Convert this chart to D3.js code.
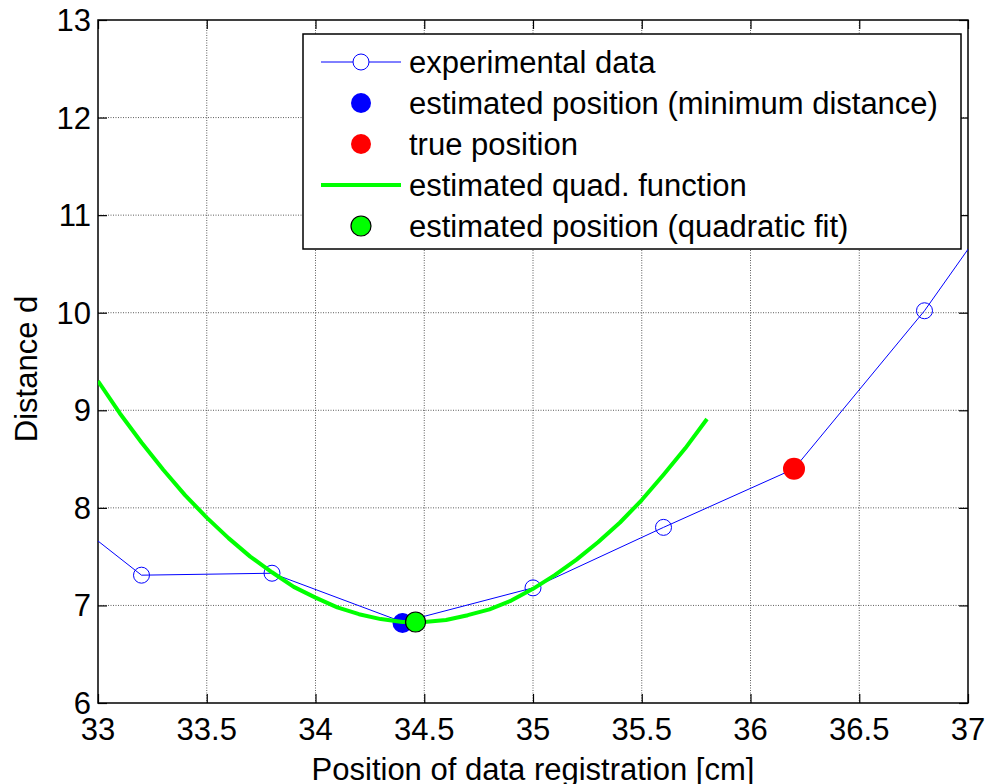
<!DOCTYPE html>
<html>
<head>
<meta charset="utf-8">
<script src="https://cdn.jsdelivr.net/npm/d3@7"></script>
<style>
  body { margin: 0; background: #fff; }
  text { font-family: "Liberation Sans", Arial, sans-serif; fill: #000; }
</style>
</head>
<body>
<div id="chart"></div>
<script>
var expX = [32.6, 33.2, 33.8, 34.4, 35.0, 35.6, 36.2, 36.8, 37.4];
var expY = [8.36, 7.31, 7.33, 6.83, 7.18, 7.80, 8.40, 10.02, 11.91];

var minPos = [34.40, 6.82];
var truePos = [36.20, 8.40];
var fitPos = [34.46, 6.83];

var quadX = [33.0, 33.1, 33.2, 33.3, 33.4, 33.5, 33.6, 33.7, 33.8, 33.9,
  34.0, 34.1, 34.2, 34.3, 34.4, 34.5, 34.6, 34.7, 34.8, 34.9,
  35.0, 35.1, 35.2, 35.3, 35.4, 35.5, 35.6, 35.7, 35.8];
var quadY = [9.30, 8.97, 8.67, 8.39, 8.13, 7.90, 7.69, 7.50, 7.34, 7.19,
  7.08, 6.98, 6.91, 6.86, 6.83, 6.83, 6.85, 6.90, 6.96, 7.05,
  7.17, 7.31, 7.47, 7.65, 7.85, 8.08, 8.34, 8.61, 8.91];

var xTicks = [33, 33.5, 34, 34.5, 35, 35.5, 36, 36.5, 37];
var yTicks = [6, 7, 8, 9, 10, 11, 12, 13];

var legendLabels = ["experimental data", "estimated position (minimum distance)",
  "true position", "estimated quad. function", "estimated position (quadratic fit)"];

var width = 986;
var height = 784;
// note: "top" is reserved on window, so use other names
var pLeft = 98, pRight = 968, pTop = 20, pBottom = 703;

var svg = d3.select("#chart")
  .append("svg")
  .attr("width", width)
  .attr("height", height);

var x = d3.scaleLinear().domain([33, 37]).range([pLeft, pRight]);
var y = d3.scaleLinear().domain([6, 13]).range([pBottom, pTop]);

svg.append("clipPath")
  .attr("id", "plot-clip")
  .append("rect")
  .attr("x", pLeft)
  .attr("y", pTop)
  .attr("width", pRight - pLeft)
  .attr("height", pBottom - pTop);

// dotted grid
svg.append("g")
  .selectAll("line")
  .data(xTicks.slice(1, -1))
  .join("line")
  .attr("x1", function(d) { return x(d); })
  .attr("x2", function(d) { return x(d); })
  .attr("y1", pTop)
  .attr("y2", pBottom)
  .attr("stroke", "#333")
  .attr("stroke-width", 0.8)
  .attr("stroke-dasharray", "1,1.5");

svg.append("g")
  .selectAll("line")
  .data(yTicks.slice(1, -1))
  .join("line")
  .attr("x1", pLeft)
  .attr("x2", pRight)
  .attr("y1", function(d) { return y(d); })
  .attr("y2", function(d) { return y(d); })
  .attr("stroke", "#333")
  .attr("stroke-width", 0.8)
  .attr("stroke-dasharray", "1,1.5");

// axes with inward ticks on all four sides
var tickLen = 9;
svg.append("g")
  .attr("transform", "translate(0," + pBottom + ")")
  .call(d3.axisBottom(x).tickValues(xTicks).tickSize(-tickLen).tickFormat(""));
svg.append("g")
  .attr("transform", "translate(0," + pTop + ")")
  .call(d3.axisTop(x).tickValues(xTicks).tickSize(-tickLen).tickFormat(""));
svg.append("g")
  .attr("transform", "translate(" + pLeft + ",0)")
  .call(d3.axisLeft(y).tickValues(yTicks).tickSize(-tickLen).tickFormat(""));
svg.append("g")
  .attr("transform", "translate(" + pRight + ",0)")
  .call(d3.axisRight(y).tickValues(yTicks).tickSize(-tickLen).tickFormat(""));
svg.selectAll(".domain").remove();
svg.selectAll(".tick line").attr("stroke", "#000").attr("stroke-width", 1.2);

svg.append("rect")
  .attr("x", pLeft)
  .attr("y", pTop)
  .attr("width", pRight - pLeft)
  .attr("height", pBottom - pTop)
  .attr("fill", "none")
  .attr("stroke", "#000")
  .attr("stroke-width", 1.5);

// tick labels
svg.append("g")
  .selectAll("text")
  .data(xTicks)
  .join("text")
  .attr("x", function(d) { return x(d); })
  .attr("y", 740)
  .attr("text-anchor", "middle")
  .attr("font-size", 31)
  .text(function(d) { return d; });

svg.append("g")
  .selectAll("text")
  .data(yTicks)
  .join("text")
  .attr("x", 91)
  .attr("y", function(d) { return y(d) + 11; })
  .attr("text-anchor", "end")
  .attr("font-size", 31)
  .text(function(d) { return d; });

svg.append("text")
  .attr("x", (pLeft + pRight) / 2)
  .attr("y", 780)
  .attr("text-anchor", "middle")
  .attr("font-size", 31)
  .text("Position of data registration [cm]");

svg.append("text")
  .attr("transform", "translate(37,369) rotate(-90)")
  .attr("text-anchor", "middle")
  .attr("font-size", 31)
  .text("Distance d");

// plotted series
var plot = svg.append("g").attr("clip-path", "url(#plot-clip)");

var expPts = expX.map(function(d, i) { return [d, expY[i]]; });
var quadPts = quadX.map(function(d, i) { return [d, quadY[i]]; });
var line = d3.line()
  .x(function(d) { return x(d[0]); })
  .y(function(d) { return y(d[1]); });

plot.append("path")
  .attr("d", line(expPts))
  .attr("fill", "none")
  .attr("stroke", "#0000ff")
  .attr("stroke-width", 1);

plot.selectAll(".exp")
  .data(expPts)
  .join("circle")
  .attr("class", "exp")
  .attr("cx", function(d) { return x(d[0]); })
  .attr("cy", function(d) { return y(d[1]); })
  .attr("r", 8)
  .attr("fill", "none")
  .attr("stroke", "#0000ff")
  .attr("stroke-width", 1);

plot.append("circle")
  .attr("cx", x(minPos[0]))
  .attr("cy", y(minPos[1]))
  .attr("r", 10)
  .attr("fill", "#0000ff");

plot.append("circle")
  .attr("cx", x(truePos[0]))
  .attr("cy", y(truePos[1]))
  .attr("r", 11)
  .attr("fill", "#ff0000");

plot.append("path")
  .attr("d", line(quadPts))
  .attr("fill", "none")
  .attr("stroke", "#00ff00")
  .attr("stroke-width", 4)
  .attr("stroke-linejoin", "round");

plot.append("circle")
  .attr("cx", x(fitPos[0]))
  .attr("cy", y(fitPos[1]))
  .attr("r", 10)
  .attr("fill", "#00ff00")
  .attr("stroke", "#000")
  .attr("stroke-width", 1.2);

// legend
var legend = svg.append("g");
legend.append("rect")
  .attr("x", 303)
  .attr("y", 34)
  .attr("width", 658)
  .attr("height", 215)
  .attr("fill", "#fff")
  .attr("stroke", "#000")
  .attr("stroke-width", 1.5);

var rowY = [62, 103, 144, 185, 226];

legend.selectAll("text")
  .data(legendLabels)
  .join("text")
  .attr("x", 409)
  .attr("y", function(d, i) { return rowY[i] + 11; })
  .attr("font-size", 31)
  .text(function(d) { return d; });

legend.append("line")
  .attr("x1", 321).attr("x2", 401)
  .attr("y1", rowY[0]).attr("y2", rowY[0])
  .attr("stroke", "#0000ff").attr("stroke-width", 1);
legend.append("circle")
  .attr("cx", 361).attr("cy", rowY[0]).attr("r", 8)
  .attr("fill", "#fff").attr("stroke", "#0000ff");
legend.append("circle")
  .attr("cx", 361).attr("cy", rowY[1]).attr("r", 10)
  .attr("fill", "#0000ff");
legend.append("circle")
  .attr("cx", 361).attr("cy", rowY[2]).attr("r", 10)
  .attr("fill", "#ff0000");
legend.append("line")
  .attr("x1", 321).attr("x2", 401)
  .attr("y1", rowY[3]).attr("y2", rowY[3])
  .attr("stroke", "#00ff00").attr("stroke-width", 4);
legend.append("circle")
  .attr("cx", 361).attr("cy", rowY[4]).attr("r", 10)
  .attr("fill", "#00ff00").attr("stroke", "#000").attr("stroke-width", 1.2);
</script>
</body>
</html>
